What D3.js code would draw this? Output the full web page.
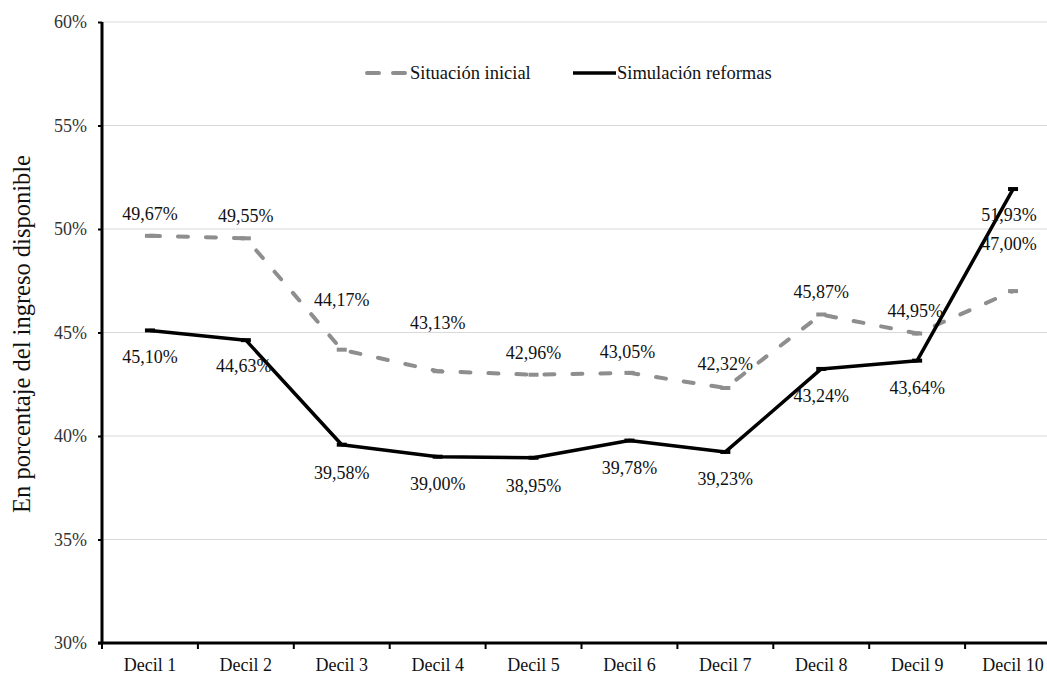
<!DOCTYPE html>
<html>
<head>
<meta charset="utf-8">
<script src="https://cdn.jsdelivr.net/npm/d3@7"></script>
<style>
  html, body { margin: 0; padding: 0; background: #fff; }
  svg { display: block; font-family: "Liberation Serif", "Times New Roman", serif; }
  svg text { font-family: "Liberation Serif", "Times New Roman", serif; }
</style>
</head>
<body>
<svg id="chart" width="1047" height="677"></svg>
<script>
// Share of disposable income by decile
const deciles = ["Decil 1", "Decil 2", "Decil 3", "Decil 4", "Decil 5",
                 "Decil 6", "Decil 7", "Decil 8", "Decil 9", "Decil 10"];
const situacionInicial = [49.67, 49.55, 44.17, 43.13, 42.96, 43.05, 42.32, 45.87, 44.95, 47.00];
const simulacionReformas = [45.10, 44.63, 39.58, 39.00, 38.95, 39.78, 39.23, 43.24, 43.64, 51.93];
const yTicks = [30, 35, 40, 45, 50, 55, 60];
const seriesNames = ["Situación inicial", "Simulación reformas"];

(function draw() {
const svg = d3.select("#chart");
const plotLeft = 102, plotRight = 1061, plotTop = 22, plotBottom = 643;

const x = d3.scaleBand().domain(deciles).range([plotLeft, plotRight]);
const y = d3.scaleLinear().domain([30, 60]).range([plotBottom, plotTop]);

const fmt = v => d3.format(".2f")(v).replace(".", ",") + "%";

// gridlines
svg.append("g").selectAll("line").data(yTicks.filter(t => t > 30)).join("line")
  .attr("x1", plotLeft).attr("x2", 1047)
  .attr("y1", d => y(d)).attr("y2", d => y(d))
  .attr("stroke", "#d9d9d9").attr("stroke-width", 1.2);

// y axis
const yAxis = svg.append("g").attr("transform", `translate(${plotLeft},0)`)
  .call(d3.axisLeft(y).tickValues(yTicks).tickSize(4).tickPadding(11).tickFormat(d => d + "%"));
yAxis.select(".domain").attr("stroke", "#000").attr("stroke-width", 3).attr("d", `M0,${plotTop}V${plotBottom}`);
yAxis.selectAll(".tick line").attr("stroke", "#000").attr("stroke-width", 2);
yAxis.selectAll(".tick text").attr("font-size", 18).attr("fill", "#333")
  .attr("font-family", "'Liberation Serif', serif");

// x axis
const xAxis = svg.append("g").attr("transform", `translate(0,${plotBottom})`);
xAxis.append("line").attr("x1", plotLeft - 4).attr("x2", 1047).attr("y1", 0).attr("y2", 0)
  .attr("stroke", "#000").attr("stroke-width", 3);
xAxis.selectAll("line.tk").data(deciles).join("line").attr("class", "tk")
  .attr("x1", d => x(d)).attr("x2", d => x(d)).attr("y1", 0).attr("y2", 6)
  .attr("stroke", "#000").attr("stroke-width", 2);
xAxis.selectAll("text").data(deciles).join("text")
  .attr("x", d => x(d) + x.bandwidth() / 2).attr("y", 28)
  .attr("text-anchor", "middle").attr("font-size", 18).attr("fill", "#111")
  .text(d => d);

// y axis title
svg.append("text")
  .attr("transform", "translate(30,334) rotate(-90)")
  .attr("text-anchor", "middle").attr("font-size", 24.5).attr("fill", "#111")
  .text("En porcentaje del ingreso disponible");

const cx = d => x(d) + x.bandwidth() / 2;
const line = d3.line().x(d => cx(d.k)).y(d => y(d.v));

const series = [
  { name: seriesNames[0], values: situacionInicial, color: "#8e8e8e", width: 4, dash: "10,18", cap: "round" },
  { name: seriesNames[1], values: simulacionReformas, color: "#000", width: 3.5, dash: null, cap: "butt" }
];

series.forEach(s => {
  const pts = deciles.map((k, i) => ({ k, v: s.values[i] }));
  svg.append("path").datum(pts)
    .attr("d", line).attr("fill", "none")
    .attr("stroke", s.color).attr("stroke-width", s.width)
    .attr("stroke-linejoin", "round").attr("stroke-linecap", s.cap)
    .attr("stroke-dasharray", s.dash);
  svg.append("g").selectAll("rect").data(pts).join("rect")
    .attr("x", d => cx(d.k) - 5).attr("y", d => y(d.v) - 2)
    .attr("width", 10).attr("height", 4).attr("fill", s.color);
});

// value labels: initial situation above, reform simulation below
const aboveDy = [-22, -22, -50, -48, -22, -21, -24, -22, -23, -47];
const belowDy = [27, 26, 28, 27, 28, 27, 27, 27, 27, 26];
const aboveDx = [0, 0, 0, 0, 0, -2, 0, 0, -2, -4];
const belowDx = [0, -2, 0, 0, 0, 0, 0, 0, 0, -4];
svg.append("g").selectAll("text").data(situacionInicial).join("text")
  .attr("x", (d, i) => cx(deciles[i]) + aboveDx[i])
  .attr("y", (d, i) => y(d) + aboveDy[i] + 6)
  .attr("text-anchor", "middle").attr("font-size", 18).attr("fill", "#111")
  .text(fmt);
svg.append("g").selectAll("text").data(simulacionReformas).join("text")
  .attr("x", (d, i) => cx(deciles[i]) + belowDx[i])
  .attr("y", (d, i) => y(d) + belowDy[i] + 6)
  .attr("text-anchor", "middle").attr("font-size", 18).attr("fill", "#111")
  .text(fmt);

// legend
const lg = svg.append("g").attr("transform", "translate(0,73)");
lg.append("line").attr("x1", 367).attr("x2", 406).attr("y1", 0).attr("y2", 0)
  .attr("stroke", "#8e8e8e").attr("stroke-width", 4).attr("stroke-linecap", "round")
  .attr("stroke-dasharray", "12,14");
lg.append("text").attr("x", 410).attr("y", 6).attr("font-size", 18.5).attr("fill", "#111").text(seriesNames[0]);
lg.append("line").attr("x1", 573).attr("x2", 616).attr("y1", 0).attr("y2", 0)
  .attr("stroke", "#000").attr("stroke-width", 3.5);
lg.append("text").attr("x", 617).attr("y", 6).attr("font-size", 18.5).attr("fill", "#111").text(seriesNames[1]);
})();
</script>
</body>
</html>
